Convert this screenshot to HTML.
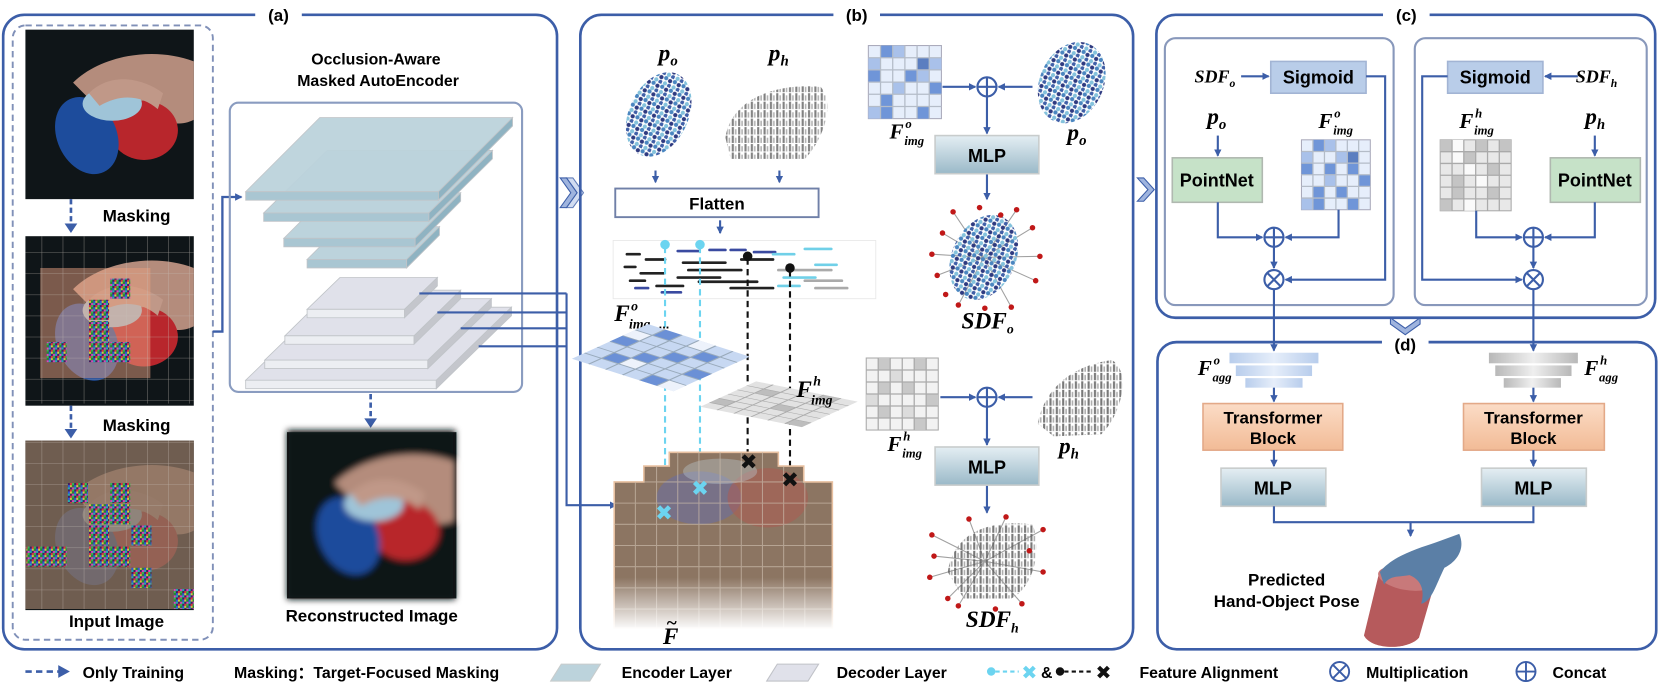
<!DOCTYPE html>
<html><head><meta charset="utf-8"><style>
html,body{margin:0;padding:0;background:#fff;}
svg{display:block;}
text{font-family:"Liberation Sans","DejaVu Sans",sans-serif;}
.b{font-weight:bold;}
.m{font-family:"Liberation Serif",serif;font-style:italic;font-weight:bold;}
</style></head><body>
<svg width="1661" height="687" viewBox="0 0 1568.5 648.6" preserveAspectRatio="none" xmlns="http://www.w3.org/2000/svg">
<defs>
<marker id="ar" markerWidth="8" markerHeight="8" refX="6" refY="4" orient="auto" markerUnits="userSpaceOnUse"><path d="M0,0.5 L7,4 L0,7.5 Z" fill="#3c5ea8"/></marker>
<pattern id="noise" width="6" height="6" patternUnits="userSpaceOnUse">
<rect width="6" height="6" fill="#402060"/><rect width="2" height="2" fill="#e03040"/><rect x="2" width="2" height="2" fill="#30c050"/><rect x="4" y="2" width="2" height="2" fill="#3050e0"/><rect y="2" width="2" height="2" fill="#d0d040"/><rect x="2" y="4" width="2" height="2" fill="#e040c0"/><rect x="4" y="4" width="2" height="2" fill="#20b0b0"/><rect x="2" y="2" width="2" height="2" fill="#209030"/></pattern>
<pattern id="grid8" width="19.9" height="19.9" patternUnits="userSpaceOnUse"><path d="M19.9,0 V19.9 M0,19.9 H19.9" stroke="#c8c0b8" stroke-width="0.8" fill="none" opacity="0.7"/></pattern>
<pattern id="bdots" width="9" height="9" patternUnits="userSpaceOnUse">
<circle cx="2" cy="2" r="2" fill="#4a86c0"/><circle cx="6.5" cy="3" r="2" fill="#2e3a80"/><circle cx="3" cy="7" r="2" fill="#84c2dc"/><circle cx="7.5" cy="7.5" r="2" fill="#4060a8"/></pattern>
<pattern id="gdots" width="6" height="8" patternUnits="userSpaceOnUse"><rect x="1" y="0" width="2" height="7" fill="#606060"/><rect x="4" y="2" width="1.5" height="5" fill="#a0a0a0"/></pattern>
<linearGradient id="mlp" x1="0" y1="0" x2="0" y2="1"><stop offset="0" stop-color="#e4eef3"/><stop offset="1" stop-color="#9ab9c8"/></linearGradient>
<linearGradient id="tr" x1="0" y1="0" x2="0" y2="1"><stop offset="0" stop-color="#fbdcc6"/><stop offset="1" stop-color="#f2bb96"/></linearGradient>
<linearGradient id="fade" x1="0" y1="0" x2="0" y2="1"><stop offset="0" stop-color="#fff" stop-opacity="0"/><stop offset="1" stop-color="#fff" stop-opacity="1"/></linearGradient>
<linearGradient id="bbar" x1="0" y1="0" x2="1" y2="0"><stop offset="0" stop-color="#b8cdec"/><stop offset="0.5" stop-color="#e6eefa"/><stop offset="1" stop-color="#b8cdec"/></linearGradient>
<linearGradient id="gbar" x1="0" y1="0" x2="1" y2="0"><stop offset="0" stop-color="#b8b8b8"/><stop offset="0.5" stop-color="#efefef"/><stop offset="1" stop-color="#b8b8b8"/></linearGradient>
<filter id="blur"><feGaussianBlur stdDeviation="3"/></filter>
<g id="scene">
<rect width="159" height="160" fill="#0f1518"/>
<path d="M45,50 C70,25 120,15 159,30 L159,85 C140,95 120,80 100,88 L70,75 Z" fill="#b48c7c"/>
<ellipse cx="112" cy="95" rx="32" ry="28" fill="#b8262c"/>
<ellipse cx="58" cy="100" rx="28" ry="38" transform="rotate(-25 58 100)" fill="#1d4c9c"/>
<ellipse cx="82" cy="70" rx="28" ry="16" fill="#9fc4d8"/>
<path d="M60,60 C80,40 110,45 130,60 L125,75 C110,62 90,60 70,72 Z" fill="#c09888"/>
</g>
</defs>

<!-- ============ PANEL A ============ -->
<path d="M241,14 H23 A20,20 0 0 0 3,34 V593 A20,20 0 0 0 23,613 H506 A20,20 0 0 0 526,593 V34 A20,20 0 0 0 506,14 H285" fill="none" stroke="#3c5ea8" stroke-width="2.5"/>
<text x="263" y="20" class="b" font-size="16" text-anchor="middle">(a)</text>
<rect x="12" y="24" width="189" height="580" rx="12" fill="none" stroke="#8090b8" stroke-width="1.8" stroke-dasharray="6,4"/>

<use href="#scene" x="24" y="28"/>
<text x="129" y="209" class="b" font-size="16" text-anchor="middle">Masking</text>
<line x1="67" y1="188" x2="67" y2="212" stroke="#3c5ea8" stroke-width="2.5" stroke-dasharray="5,3"/>
<path d="M61,211 L73,211 L67,220 Z" fill="#3c5ea8"/>

<use href="#scene" x="24" y="223"/>
<rect x="38" y="253" width="104" height="104" fill="#e8a080" opacity="0.5"/>
<rect x="24" y="223" width="159" height="158" fill="url(#grid8)"/>
<g fill="url(#noise)">
<rect x="104" y="263" width="19" height="19"/><rect x="84" y="283" width="19" height="19"/><rect x="84" y="303" width="19" height="19"/><rect x="84" y="323" width="19" height="19"/><rect x="104" y="323" width="19" height="19"/><rect x="44" y="323" width="19" height="19"/>
</g>
<text x="129" y="407" class="b" font-size="16" text-anchor="middle">Masking</text>
<line x1="67" y1="383" x2="67" y2="406" stroke="#3c5ea8" stroke-width="2.5" stroke-dasharray="5,3"/>
<path d="M61,405 L73,405 L67,414 Z" fill="#3c5ea8"/>

<use href="#scene" x="24" y="416"/>
<rect x="24" y="416" width="159" height="159" fill="#8a7260" opacity="0.78"/>
<rect x="24" y="416" width="159" height="159" fill="url(#grid8)"/>
<g fill="url(#noise)">
<rect x="64" y="456" width="19" height="19"/><rect x="104" y="456" width="19" height="19"/><rect x="84" y="476" width="19" height="19"/><rect x="104" y="476" width="19" height="19"/><rect x="84" y="496" width="19" height="19"/><rect x="124" y="496" width="19" height="19"/><rect x="25" y="516" width="19" height="19"/><rect x="44" y="516" width="19" height="19"/><rect x="84" y="516" width="19" height="19"/><rect x="104" y="516" width="19" height="19"/><rect x="124" y="536" width="19" height="19"/><rect x="164" y="556" width="19" height="19"/>
</g>
<text x="110" y="592" class="b" font-size="16" text-anchor="middle">Input Image</text>

<path d="M201,313 H210 V186 H228" fill="none" stroke="#3c5ea8" stroke-width="2.2" marker-end="url(#ar)"/>

<text x="355" y="61" class="b" font-size="15" text-anchor="middle">Occlusion-Aware</text>
<text x="357" y="81" class="b" font-size="15" text-anchor="middle">Masked AutoEncoder</text>
<rect x="217" y="97" width="276" height="273" rx="8" fill="none" stroke="#8a9cc0" stroke-width="2"/>

<g stroke="#c0c4c8" stroke-width="0.8">
<path d="M290,245 L384,245 L415,214 L321,214 Z" fill="#bcd3dc"/><path d="M290,245 H384 V253 H290 Z" fill="#a9c6d2"/><path d="M384,245 L415,214 V222 L384,253 Z" fill="#8fb3c2"/>
<path d="M268,225 L392,225 L435,182 L311,182 Z" fill="#bcd3dc"/><path d="M268,225 H392 V233 H268 Z" fill="#a9c6d2"/><path d="M392,225 L435,182 V190 L392,233 Z" fill="#8fb3c2"/>
<path d="M249,201 L405,201 L465,142 L309,142 Z" fill="#bcd3dc"/><path d="M249,201 H405 V209 H249 Z" fill="#a9c6d2"/><path d="M405,201 L465,142 V150 L405,209 Z" fill="#8fb3c2"/>
<path d="M232,181 L414,181 L484,111 L302,111 Z" fill="#bcd3dc" opacity="0.95"/><path d="M232,181 H414 V189 H232 Z" fill="#a9c6d2"/><path d="M414,181 L484,111 V119 L414,189 Z" fill="#8fb3c2"/>
<path d="M232,359 L412,359 L483,290 L303,290 Z" fill="#e0e1ea"/><path d="M232,359 H412 V367 H232 Z" fill="#eceef2"/><path d="M412,359 L483,290 V298 L412,367 Z" fill="#c4c6cc"/>
<path d="M250,340 L404,340 L464,282 L310,282 Z" fill="#e0e1ea"/><path d="M250,340 H404 V348 H250 Z" fill="#eceef2"/><path d="M404,340 L464,282 V290 L404,348 Z" fill="#c4c6cc"/>
<path d="M269,317 L391,317 L435,274 L313,274 Z" fill="#e0e1ea"/><path d="M269,317 H391 V325 H269 Z" fill="#eceef2"/><path d="M391,317 L435,274 V282 L391,325 Z" fill="#c4c6cc"/>
<path d="M290,292 L382,292 L413,262 L321,262 Z" fill="#e0e1ea"/><path d="M290,292 H382 V300 H290 Z" fill="#eceef2"/><path d="M382,292 L413,262 V270 L382,300 Z" fill="#c4c6cc"/>
</g>
<g stroke="#3c5ea8" stroke-width="2" fill="none">
<path d="M396,277 H535"/><path d="M413,295 H535"/><path d="M435,310 H535"/><path d="M452,327 H535"/>
<path d="M535,277 V477 H582" marker-end="url(#ar)"/>
</g>
<line x1="350" y1="372" x2="350" y2="395" stroke="#3c5ea8" stroke-width="2.5" stroke-dasharray="5,3"/>
<path d="M344,395 L356,395 L350,404 Z" fill="#3c5ea8"/>
<rect x="271" y="408" width="160" height="157" fill="#0f1518"/>
<g filter="url(#blur)"><use href="#scene" x="271" y="406"/></g>
<text x="351" y="587" class="b" font-size="16" text-anchor="middle">Reconstructed Image</text>

<path d="M529,168 L535,168 L545,182 L535,196 L529,196 L539,182 Z" fill="#9fb4de" stroke="#3c5ea8" stroke-width="1"/>
<path d="M535,168 L541,168 L551,182 L541,196 L535,196 L545,182 Z" fill="#c6d4ee" stroke="#3c5ea8" stroke-width="1" opacity="0.8"/>

<!-- ============ PANEL B ============ -->
<path d="M787,14 H568 A20,20 0 0 0 548,34 V593 A20,20 0 0 0 568,613 H1050 A20,20 0 0 0 1070,593 V34 A20,20 0 0 0 1050,14 H831" fill="none" stroke="#3c5ea8" stroke-width="2.5"/>
<text x="809" y="20" class="b" font-size="16" text-anchor="middle">(b)</text>

<text x="622" y="57" class="m" font-size="22">p<tspan font-size="14" dy="5">o</tspan></text>
<text x="726" y="57" class="m" font-size="22">p<tspan font-size="14" dy="5">h</tspan></text>
<ellipse cx="622" cy="108" rx="28" ry="42" transform="rotate(25 622 108)" fill="url(#bdots)"/>
<path d="M685,130 C690,95 730,78 775,82 C790,100 775,135 760,150 L690,150 Z" fill="url(#gdots)" opacity="0.8"/>
<g stroke="#3c5ea8" stroke-width="2"><line x1="619" y1="161" x2="619" y2="172" marker-end="url(#ar)"/><line x1="736" y1="161" x2="736" y2="172" marker-end="url(#ar)"/></g>
<rect x="581" y="178" width="192" height="27" fill="#fff" stroke="#7080a8" stroke-width="1.8"/>
<text x="677" y="198" class="b" font-size="16" text-anchor="middle">Flatten</text>
<line x1="680" y1="208" x2="680" y2="220" stroke="#3c5ea8" stroke-width="2" marker-end="url(#ar)"/>
<rect x="579" y="227" width="248" height="55" fill="#fff" stroke="#e8e8e8" stroke-width="0.8"/>
<g stroke-linecap="round" stroke-width="2.5">
<path d="M592,240 h12 M610,245 h18 M590,252 h10 M605,258 h22 M595,265 h14 M620,270 h25 M640,262 h40 M650,255 h50 M645,248 h40 M660,266 h55 M690,272 h40 M700,245 h30" stroke="#222"/>
<path d="M640,237 h20 M670,236 h15 M600,272 h12 M625,276 h18 M690,236 h14 M712,238 h20" stroke="#3a4aa0"/>
<path d="M730,240 h20 M760,235 h25 M740,262 h30 M770,250 h20 M735,270 h20" stroke="#70d0e8"/>
<path d="M735,255 h50 M760,265 h35 M770,272 h30" stroke="#aaa"/>
</g>
<g stroke-width="2" stroke-dasharray="6,4" fill="none">
<line x1="628" y1="233" x2="628" y2="480" stroke="#6cd4f0"/>
<line x1="661" y1="233" x2="661" y2="456" stroke="#6cd4f0"/>
<line x1="706" y1="244" x2="706" y2="432" stroke="#111"/>
<line x1="746" y1="255" x2="746" y2="448" stroke="#111"/>
</g>
<circle cx="628" cy="231" r="4.5" fill="#6cd4f0"/><circle cx="661" cy="231" r="4.5" fill="#6cd4f0"/>
<circle cx="706" cy="242" r="4.5" fill="#111"/><circle cx="746" cy="253" r="4.5" fill="#111"/>
<text x="580" y="303" class="m" font-size="22">F</text><text x="596" y="293" class="m" font-size="13">o</text><text x="594" y="310" class="m" font-size="13">img</text>
<text x="622" y="310" class="b" font-size="12">...</text>
<g transform="matrix(1,0.32,-0.75,0.34,612,306)">
<rect x="0" y="0" width="96" height="96" fill="#c7d8f2"/>
<g fill="#6b90d6"><rect x="16" y="0" width="16" height="16"/><rect x="64" y="16" width="16" height="16"/><rect x="0" y="32" width="16" height="16"/><rect x="48" y="32" width="16" height="16"/><rect x="32" y="48" width="16" height="16"/><rect x="80" y="48" width="16" height="16"/><rect x="16" y="64" width="16" height="16"/><rect x="64" y="80" width="16" height="16"/></g>
<g fill="#edf2fb"><rect x="48" y="0" width="16" height="16"/><rect x="0" y="16" width="16" height="16"/><rect x="32" y="64" width="16" height="16"/><rect x="80" y="80" width="16" height="16"/></g>
<path d="M16,0V96M32,0V96M48,0V96M64,0V96M80,0V96M0,16H96M0,32H96M0,48H96M0,64H96M0,80H96" stroke="#9ab" stroke-width="1.5" fill="none"/>
</g>
<g transform="matrix(1,0.2,-0.55,0.25,714,360)">
<rect x="0" y="0" width="96" height="96" fill="#e2e2e2"/>
<g fill="#bdbdbd"><rect x="16" y="16" width="16" height="16"/><rect x="64" y="0" width="16" height="16"/><rect x="48" y="48" width="16" height="16"/><rect x="0" y="64" width="16" height="16"/><rect x="80" y="80" width="16" height="16"/></g>
<path d="M16,0V96M32,0V96M48,0V96M64,0V96M80,0V96M0,16H96M0,32H96M0,48H96M0,64H96M0,80H96" stroke="#aaa" stroke-width="1.5" fill="none"/>
</g>
<text x="752" y="375" class="m" font-size="22">F</text><text x="768" y="364" class="m" font-size="13">h</text><text x="766" y="382" class="m" font-size="13">img</text>
<g>
<path d="M632,427 H735 V440 H759 V455 H786 V593 H580 V455 H608 V440 H632 Z" fill="#8c7562"/>
<ellipse cx="660" cy="470" rx="40" ry="25" fill="#6a6ea0" opacity="0.6"/>
<ellipse cx="725" cy="470" rx="38" ry="28" fill="#b05a50" opacity="0.5"/>
<ellipse cx="680" cy="445" rx="35" ry="12" fill="#b8c8d0" opacity="0.4"/>
<path d="M632,427 H735 V440 H759 V455 H786 V593 H580 V455 H608 V440 H632 Z" fill="none" stroke="#e8c0a0" stroke-width="1.5"/>
<path d="M600,455V593M620,440V593M640,427V593M660,427V593M680,427V593M700,427V593M720,427V593M740,440V593M760,455V593M580,475H786M580,495H786M580,515H786M580,535H786M580,555H786M580,575H786M608,455H759" stroke="#c8b8a8" stroke-width="1" fill="none" opacity="0.7"/>
<rect x="578" y="545" width="210" height="50" fill="url(#fade)"/>
</g>
<text x="626" y="608" class="m" font-size="22">F</text><text x="629" y="594" class="m" font-size="18">~</text>
<g font-size="20" class="b" text-anchor="middle">
<text x="627" y="491" fill="#6cd4f0">✖</text><text x="661" y="468" fill="#6cd4f0">✖</text>
<text x="707" y="443" fill="#111">✖</text><text x="746" y="460" fill="#111">✖</text>
</g>

<g transform="translate(820,43)">
<rect width="69" height="69" fill="#e6eefb" stroke="#aab" stroke-width="1"/>
<g fill="#6f95d8"><rect x="11.5" width="11.5" height="11.5"/><rect x="0" y="23" width="11.5" height="11.5"/><rect x="34.5" y="23" width="11.5" height="11.5"/><rect x="57.5" y="34.5" width="11.5" height="11.5"/><rect x="11.5" y="46" width="11.5" height="11.5"/><rect x="11.5" y="57.5" width="11.5" height="11.5"/><rect x="46" y="57.5" width="11.5" height="11.5"/></g>
<g fill="#a9c1ea"><rect x="23" width="11.5" height="11.5"/><rect y="11.5" width="11.5" height="11.5"/><rect x="46" y="23" width="11.5" height="11.5"/><rect x="23" y="34.5" width="11.5" height="11.5"/><rect x="57.5" y="11.5" width="11.5" height="11.5"/><rect y="57.5" width="11.5" height="11.5"/></g>
<rect x="46" y="11.5" width="11.5" height="11.5" fill="#5b7ec0"/>
<path d="M11.5,0V69M23,0V69M34.5,0V69M46,0V69M57.5,0V69M0,11.5H69M0,23H69M0,34.5H69M0,46H69M0,57.5H69" stroke="#b4bcc8" stroke-width="1.2" fill="none"/>
</g>
<text x="840" y="131" class="m" font-size="20">F</text><text x="855" y="121" class="m" font-size="12">o</text><text x="854" y="137" class="m" font-size="12">img</text>
<g stroke="#3c5ea8" stroke-width="2" fill="none">
<line x1="890" y1="82" x2="921" y2="82" marker-end="url(#ar)"/>
<line x1="975" y1="82" x2="943" y2="82" marker-end="url(#ar)"/>
<line x1="932" y1="91" x2="932" y2="126" marker-end="url(#ar)"/>
<line x1="932" y1="164" x2="932" y2="188" marker-end="url(#ar)"/>
<circle cx="932" cy="82" r="9" fill="#fff"/><path d="M923,82H941M932,73V91"/>
</g>
<ellipse cx="1012" cy="78" rx="30" ry="40" transform="rotate(25 1012 78)" fill="url(#bdots)"/>
<text x="1008" y="132" class="m" font-size="22">p<tspan font-size="14" dy="5">o</tspan></text>
<rect x="883" y="128" width="98" height="36" fill="url(#mlp)" stroke="#c8cccc" stroke-width="1.5"/>
<text x="932" y="153" class="b" font-size="17" text-anchor="middle">MLP</text>
<g stroke="#a0a0a0" stroke-width="1">
<path d="M929,243 L890,220 M929,243 L975,215 M929,243 L885,260 M929,243 L978,265 M929,243 L900,200 M929,243 L960,198 M929,243 L905,288 M929,243 L955,290 M929,243 L880,240 M929,243 L982,242"/>
</g>
<ellipse cx="929" cy="243" rx="30" ry="42" transform="rotate(25 929 243)" fill="url(#bdots)"/>
<g fill="#c01818">
<circle cx="890" cy="220" r="2.6"/><circle cx="975" cy="215" r="2.6"/><circle cx="885" cy="260" r="2.6"/><circle cx="978" cy="265" r="2.6"/><circle cx="900" cy="200" r="2.6"/><circle cx="960" cy="198" r="2.6"/><circle cx="905" cy="288" r="2.6"/><circle cx="955" cy="290" r="2.6"/><circle cx="880" cy="240" r="2.6"/><circle cx="982" cy="242" r="2.6"/><circle cx="925" cy="196" r="2.6"/><circle cx="930" cy="291" r="2.6"/><circle cx="945" cy="203" r="2.6"/><circle cx="893" cy="278" r="2.6"/>
</g>
<text x="908" y="310" class="m" font-size="22">SDF<tspan font-size="13" dy="5">o</tspan></text>

<g transform="translate(818,338)">
<rect width="68" height="68" fill="#f2f2f2" stroke="#aaa" stroke-width="1"/>
<g fill="#c8c8c8"><rect x="11.3" y="0" width="11.3" height="11.3"/><rect x="45.3" y="0" width="11.3" height="11.3"/><rect x="11.3" y="22.6" width="11.3" height="11.3"/><rect x="34" y="22.6" width="11.3" height="11.3"/><rect x="56.6" y="34" width="11.3" height="11.3"/><rect x="11.3" y="45.3" width="11.3" height="11.3"/><rect x="45.3" y="56.6" width="11.3" height="11.3"/></g>
<g fill="#dcdcdc"><rect x="22.6" y="11.3" width="11.3" height="11.3"/><rect y="34" width="11.3" height="11.3"/><rect x="34" y="45.3" width="11.3" height="11.3"/></g>
<path d="M11.3,0V68M22.6,0V68M34,0V68M45.3,0V68M56.6,0V68M0,11.3H68M0,22.6H68M0,34H68M0,45.3H68M0,56.6H68" stroke="#aaa" stroke-width="1.2" fill="none"/>
</g>
<text x="838" y="426" class="m" font-size="20">F</text><text x="853" y="416" class="m" font-size="12">h</text><text x="852" y="432" class="m" font-size="12">img</text>
<g stroke="#3c5ea8" stroke-width="2" fill="none">
<line x1="888" y1="375" x2="921" y2="375" marker-end="url(#ar)"/>
<line x1="975" y1="375" x2="943" y2="375" marker-end="url(#ar)"/>
<line x1="932" y1="384" x2="932" y2="420" marker-end="url(#ar)"/>
<line x1="932" y1="458" x2="932" y2="484" marker-end="url(#ar)"/>
<circle cx="932" cy="375" r="9" fill="#fff"/><path d="M923,375H941M932,366V384"/>
</g>
<path d="M980,400 C985,370 1010,345 1050,340 C1068,350 1060,390 1040,410 L995,412 Z" fill="url(#gdots)" opacity="0.85"/>
<text x="1000" y="428" class="m" font-size="22">p<tspan font-size="14" dy="5">h</tspan></text>
<rect x="883" y="422" width="98" height="36" fill="url(#mlp)" stroke="#c8cccc" stroke-width="1.5"/>
<text x="932" y="447" class="b" font-size="17" text-anchor="middle">MLP</text>
<g stroke="#a0a0a0" stroke-width="1">
<path d="M930,530 L880,505 M930,530 L985,500 M930,530 L878,545 M930,530 L985,540 M930,530 L895,565 M930,530 L965,570 M930,530 L915,490 M930,530 L950,488 M930,530 L905,572 M930,530 L882,525"/>
</g>
<path d="M895,540 C900,505 930,490 975,495 C985,520 975,555 955,565 L910,565 Z" fill="url(#gdots)" opacity="0.85"/>
<g fill="#c01818">
<circle cx="880" cy="505" r="2.6"/><circle cx="985" cy="500" r="2.6"/><circle cx="878" cy="545" r="2.6"/><circle cx="985" cy="540" r="2.6"/><circle cx="895" cy="565" r="2.6"/><circle cx="965" cy="570" r="2.6"/><circle cx="915" cy="490" r="2.6"/><circle cx="950" cy="488" r="2.6"/><circle cx="905" cy="572" r="2.6"/><circle cx="882" cy="525" r="2.6"/><circle cx="972" cy="520" r="2.6"/><circle cx="940" cy="575" r="2.6"/>
</g>
<text x="912" y="592" class="m" font-size="22">SDF<tspan font-size="13" dy="5">h</tspan></text>

<path d="M1074,168 L1080,168 L1090,179 L1080,190 L1074,190 L1084,179 Z" fill="#9fb4de" stroke="#3c5ea8" stroke-width="1"/>

<!-- ============ PANEL C ============ -->
<path d="M1306,14 H1110 A18,18 0 0 0 1092,32 V282 A18,18 0 0 0 1110,300 H1545 A18,18 0 0 0 1563,282 V32 A18,18 0 0 0 1545,14 H1350" fill="none" stroke="#3c5ea8" stroke-width="2.5"/>
<text x="1328" y="20" class="b" font-size="16" text-anchor="middle">(c)</text>
<rect x="1100" y="36" width="216" height="252" rx="10" fill="none" stroke="#8898bb" stroke-width="2"/>
<rect x="1336" y="36" width="219" height="252" rx="10" fill="none" stroke="#8898bb" stroke-width="2"/>

<text x="1128" y="78" class="m" font-size="17">SDF<tspan font-size="11" dy="4">o</tspan></text>
<rect x="1200" y="58" width="90" height="30" fill="#b9cde9" stroke="#a2b4d4" stroke-width="1.5"/>
<text x="1245" y="79" class="b" font-size="17" text-anchor="middle">Sigmoid</text>
<rect x="1367" y="58" width="90" height="30" fill="#b9cde9" stroke="#a2b4d4" stroke-width="1.5"/>
<text x="1412" y="79" class="b" font-size="17" text-anchor="middle">Sigmoid</text>
<text x="1488" y="78" class="m" font-size="17">SDF<tspan font-size="11" dy="4">h</tspan></text>

<text x="1140" y="117" class="m" font-size="22">p<tspan font-size="14" dy="5">o</tspan></text>
<text x="1497" y="117" class="m" font-size="22">p<tspan font-size="14" dy="5">h</tspan></text>
<text x="1245" y="121" class="m" font-size="20">F</text><text x="1260" y="111" class="m" font-size="12">o</text><text x="1259" y="127" class="m" font-size="12">img</text>
<text x="1378" y="121" class="m" font-size="20">F</text><text x="1393" y="111" class="m" font-size="12">h</text><text x="1392" y="127" class="m" font-size="12">img</text>

<rect x="1107" y="149" width="85" height="42" fill="#c6e2c8" stroke="#b0b8b0" stroke-width="1.5"/>
<text x="1149" y="176" class="b" font-size="17" text-anchor="middle">PointNet</text>
<rect x="1464" y="149" width="85" height="42" fill="#c6e2c8" stroke="#b0b8b0" stroke-width="1.5"/>
<text x="1506" y="176" class="b" font-size="17" text-anchor="middle">PointNet</text>

<g transform="translate(1229,132)">
<rect width="65" height="66" fill="#e6eefb" stroke="#aab" stroke-width="1"/>
<g fill="#6f95d8"><rect x="10.8" width="10.8" height="11"/><rect x="0" y="22" width="10.8" height="11"/><rect x="21.7" y="22" width="10.8" height="11"/><rect x="43.3" y="22" width="10.8" height="11"/><rect x="54" y="33" width="10.8" height="11"/><rect x="10.8" y="44" width="10.8" height="11"/><rect x="32.5" y="44" width="10.8" height="11"/><rect x="10.8" y="55" width="10.8" height="11"/><rect x="43.3" y="55" width="10.8" height="11"/></g>
<g fill="#a9c1ea"><rect x="21.7" width="10.8" height="11"/><rect y="11" width="10.8" height="11"/><rect x="32.5" y="11" width="10.8" height="11"/><rect x="21.7" y="33" width="10.8" height="11"/><rect y="55" width="10.8" height="11"/></g>
<rect x="43.3" y="11" width="10.8" height="11" fill="#5b7ec0"/>
<path d="M10.8,0V66M21.7,0V66M32.5,0V66M43.3,0V66M54,0V66M0,11H65M0,22H65M0,33H65M0,44H65M0,55H65" stroke="#b4bcc8" stroke-width="1.2" fill="none"/>
</g>
<g transform="translate(1360,132)">
<rect width="67" height="67" fill="#e8e8e8" stroke="#aaa" stroke-width="1"/>
<g fill="#c4c4c4"><rect x="0" y="0" width="11.2" height="11.2"/><rect x="22.3" y="11.2" width="11.2" height="11.2"/><rect x="33.5" y="0" width="11.2" height="11.2"/><rect x="55.8" y="0" width="11.2" height="11.2"/><rect x="11.2" y="33.5" width="11.2" height="11.2"/><rect x="44.7" y="22.3" width="11.2" height="11.2"/><rect x="11.2" y="44.7" width="11.2" height="11.2"/><rect x="0" y="55.8" width="11.2" height="11.2"/><rect x="44.7" y="44.7" width="11.2" height="11.2"/></g>
<g fill="#fafafa"><rect x="11.2" y="0" width="11.2" height="11.2"/><rect x="11.2" y="11.2" width="11.2" height="11.2"/><rect x="22.3" y="22.3" width="11.2" height="11.2"/><rect x="33.5" y="33.5" width="11.2" height="11.2"/><rect x="22.3" y="55.8" width="11.2" height="11.2"/></g>
<path d="M11.2,0V67M22.3,0V67M33.5,0V67M44.7,0V67M55.8,0V67M0,11.2H67M0,22.3H67M0,33.5H67M0,44.7H67M0,55.8H67" stroke="#aaa" stroke-width="1.2" fill="none"/>
</g>

<g stroke="#3c5ea8" stroke-width="2" fill="none">
<line x1="1172" y1="72" x2="1198" y2="72" marker-end="url(#ar)"/>
<line x1="1490" y1="72" x2="1459" y2="72" marker-end="url(#ar)"/>
<line x1="1150" y1="128" x2="1150" y2="147" marker-end="url(#ar)"/>
<line x1="1506" y1="128" x2="1506" y2="147" marker-end="url(#ar)"/>
<path d="M1150,191 V224 H1192" marker-end="url(#ar)"/>
<path d="M1264,198 V224 H1214" marker-end="url(#ar)"/>
<path d="M1203,233 V253" marker-end="url(#ar)"/>
<path d="M1290,72 H1308 V264 H1214" marker-end="url(#ar)"/>
<path d="M1394,199 V224 H1437" marker-end="url(#ar)"/>
<path d="M1506,191 V224 H1459" marker-end="url(#ar)"/>
<path d="M1448,233 V253" marker-end="url(#ar)"/>
<path d="M1367,72 H1343 V264 H1437" marker-end="url(#ar)"/>
<circle cx="1203" cy="224" r="9" fill="#fff"/><path d="M1194,224H1212M1203,215V233"/>
<circle cx="1448" cy="224" r="9" fill="#fff"/><path d="M1439,224H1457M1448,215V233"/>
<circle cx="1203" cy="264" r="9" fill="#fff"/><path d="M1197,258L1209,270M1209,258L1197,270"/>
<circle cx="1448" cy="264" r="9" fill="#fff"/><path d="M1442,258L1454,270M1454,258L1442,270"/>
<path d="M1203,273 V331" marker-end="url(#ar)"/>
<path d="M1448,273 V331" marker-end="url(#ar)"/>
</g>

<path d="M1313,300 L1313,306 L1327,316 L1341,306 L1341,300 L1327,310 Z" fill="#9fb4de" stroke="#3c5ea8" stroke-width="1"/>

<!-- ============ PANEL D ============ -->
<path d="M1305,323 H1111 A18,18 0 0 0 1093,341 V595 A18,18 0 0 0 1111,613 H1546 A18,18 0 0 0 1564,595 V341 A18,18 0 0 0 1546,323 H1349" fill="none" stroke="#3c5ea8" stroke-width="2.5"/>
<text x="1327" y="331" class="b" font-size="16" text-anchor="middle">(d)</text>
<rect x="1161" y="333" width="84" height="10" fill="url(#bbar)"/>
<rect x="1167" y="345" width="72" height="10" fill="url(#bbar)"/>
<rect x="1176" y="357" width="54" height="9" fill="url(#bbar)"/>
<rect x="1406" y="333" width="84" height="10" fill="url(#gbar)"/>
<rect x="1412" y="345" width="72" height="10" fill="url(#gbar)"/>
<rect x="1420" y="357" width="54" height="9" fill="url(#gbar)"/>
<text x="1131" y="354" class="m" font-size="20">F</text><text x="1146" y="344" class="m" font-size="12">o</text><text x="1145" y="360" class="m" font-size="12">agg</text>
<text x="1496" y="354" class="m" font-size="20">F</text><text x="1511" y="344" class="m" font-size="12">h</text><text x="1510" y="360" class="m" font-size="12">agg</text>

<rect x="1136" y="381" width="132" height="44" fill="url(#tr)" stroke="#e3a988" stroke-width="1.5"/>
<text x="1202" y="400" class="b" font-size="16" text-anchor="middle">Transformer</text>
<text x="1202" y="419" class="b" font-size="16" text-anchor="middle">Block</text>
<rect x="1382" y="381" width="133" height="44" fill="url(#tr)" stroke="#e3a988" stroke-width="1.5"/>
<text x="1448" y="400" class="b" font-size="16" text-anchor="middle">Transformer</text>
<text x="1448" y="419" class="b" font-size="16" text-anchor="middle">Block</text>
<rect x="1153" y="442" width="99" height="36" fill="url(#mlp)" stroke="#c8cccc" stroke-width="1.5"/>
<text x="1202" y="467" class="b" font-size="17" text-anchor="middle">MLP</text>
<rect x="1399" y="442" width="99" height="36" fill="url(#mlp)" stroke="#c8cccc" stroke-width="1.5"/>
<text x="1448" y="467" class="b" font-size="17" text-anchor="middle">MLP</text>
<g stroke="#3c5ea8" stroke-width="2" fill="none">
<path d="M1203,366 V379" marker-end="url(#ar)"/><path d="M1448,366 V379" marker-end="url(#ar)"/>
<path d="M1203,425 V440" marker-end="url(#ar)"/><path d="M1448,425 V440" marker-end="url(#ar)"/>
<path d="M1203,478 V493 H1448 V478"/>
<path d="M1332,493 V506" marker-end="url(#ar)"/>
</g>
<path d="M1302,542 L1355,550 L1340,602 C1330,614 1295,614 1288,600 Z" fill="#b65a5c"/>
<ellipse cx="1328" cy="546" rx="27" ry="11" transform="rotate(10 1328 546)" fill="#c8797a"/>
<path d="M1303,540 C1315,525 1338,518 1356,512 L1378,504 C1384,518 1376,530 1364,536 C1356,552 1352,568 1342,570 C1346,556 1341,547 1331,543 C1320,545 1312,543 1307,552 Z" fill="#5b7fa6"/>
<text x="1215" y="553" class="b" font-size="16" text-anchor="middle">Predicted</text>
<text x="1215" y="573" class="b" font-size="16" text-anchor="middle">Hand-Object Pose</text>

<!-- ============ LEGEND ============ -->
<line x1="24" y1="634" x2="56" y2="634" stroke="#3c5ea8" stroke-width="2.5" stroke-dasharray="6,4"/>
<path d="M55,628 L66,634 L55,640 Z" fill="#3c5ea8"/>
<text x="78" y="640" class="b" font-size="15">Only Training</text>
<text x="221" y="640" class="b" font-size="15">Masking：Target-Focused Masking</text>
<path d="M520,643 L530,627 L567,627 L557,643 Z" fill="#bcd3dc" stroke="#c8cccc"/>
<text x="587" y="640" class="b" font-size="15">Encoder Layer</text>
<path d="M724,643 L734,627 L773,627 L763,643 Z" fill="#e0e1ea" stroke="#c0c2c8"/>
<text x="790" y="640" class="b" font-size="15">Decoder Layer</text>
<circle cx="936" cy="634" r="4" fill="#6cd4f0"/>
<line x1="940" y1="634" x2="962" y2="634" stroke="#6cd4f0" stroke-width="2" stroke-dasharray="4,3"/>
<text x="972" y="641" class="b" font-size="18" fill="#6cd4f0" text-anchor="middle">✖</text>
<text x="983" y="640" class="b" font-size="15">&amp;</text>
<circle cx="1001" cy="634" r="4" fill="#111"/>
<line x1="1005" y1="634" x2="1030" y2="634" stroke="#111" stroke-width="2" stroke-dasharray="4,3"/>
<text x="1042" y="641" class="b" font-size="18" fill="#111" text-anchor="middle">✖</text>
<text x="1076" y="640" class="b" font-size="15">Feature Alignment</text>
<g stroke="#3c5ea8" stroke-width="1.8" fill="none">
<circle cx="1265" cy="634" r="9"/><path d="M1259,628L1271,640M1271,628L1259,640"/>
<circle cx="1441" cy="634" r="9"/><path d="M1432,634H1450M1441,625V643"/>
</g>
<text x="1290" y="640" class="b" font-size="15">Multiplication</text>
<text x="1466" y="640" class="b" font-size="15">Concat</text>
</svg>
</body></html>
